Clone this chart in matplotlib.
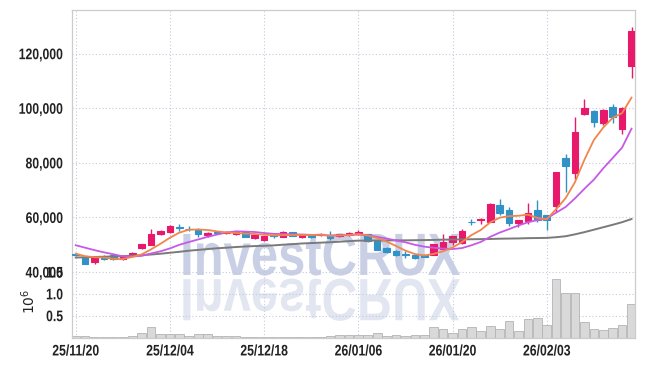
import matplotlib
matplotlib.use("Agg")
import matplotlib.pyplot as plt
from matplotlib.patheffects import AbstractPathEffect
from matplotlib.transforms import Affine2D
import numpy as np
import pandas as pd

# ---------------- data ----------------
dates = ["25/11/20", "25/11/21", "25/11/24", "25/11/25", "25/11/26", "25/11/27", "25/11/28",
         "25/12/01", "25/12/02", "25/12/03", "25/12/04", "25/12/05", "25/12/08", "25/12/09",
         "25/12/10", "25/12/11", "25/12/12", "25/12/15", "25/12/16", "25/12/17", "25/12/18",
         "25/12/19", "25/12/22", "25/12/23", "25/12/24", "25/12/26", "25/12/29", "25/12/30",
         "26/01/02", "26/01/05", "26/01/06", "26/01/07", "26/01/08", "26/01/09", "26/01/12",
         "26/01/13", "26/01/14", "26/01/15", "26/01/16", "26/01/19", "26/01/20", "26/01/21",
         "26/01/22", "26/01/23", "26/01/26", "26/01/27", "26/01/28", "26/01/29", "26/01/30",
         "26/02/02", "26/02/03", "26/02/04", "26/02/05", "26/02/06", "26/02/09", "26/02/10",
         "26/02/11", "26/02/12", "26/02/13", "26/02/19"]

opens = [46500, 45500, 43700, 45500, 46100, 44600, 46600, 48800, 50000, 53800,
         54700, 56500, 55900, 55400, 53600, 54600, 54200, 54000, 54500, 52300,
         51700, 53400, 53000, 54600, 52700, 53400, 53500, 53700, 53300, 53500,
         53900, 53800, 51200, 48800, 47600, 46600, 46400, 46400, 46400, 48600,
         51000, 50500, 58500, 59000, 58400, 64500, 62900, 58000, 58700, 62600,
         60800, 64300, 81900, 76400, 97800, 99000, 94500, 100400, 92300, 115300]
highs = [46800, 45700, 45700, 46400, 46300, 46000, 47400, 50400, 55700, 55300,
         57200, 57500, 56800, 56000, 54700, 55000, 54900, 54900, 54800, 53700,
         53300, 53700, 55100, 54800, 53600, 53700, 54300, 55100, 54100, 54500,
         55500, 54000, 51400, 49200, 47900, 47600, 46600, 46700, 50300, 54100,
         53300, 55600, 59400, 59800, 65100, 66600, 63900, 59200, 65100, 66300,
         61000, 76800, 83100, 96900, 103300, 99200, 99600, 101600, 100300, 129700]
lows = [46000, 42800, 43100, 44400, 44500, 44400, 46200, 48300, 49800, 53600,
        54400, 55000, 55000, 52900, 53000, 54000, 53800, 53700, 52900, 52000,
        51500, 52600, 52800, 53100, 52300, 52600, 53300, 51800, 53000, 53300,
        53700, 51100, 48000, 46900, 46000, 45300, 44800, 45400, 46100, 48400,
        50000, 50300, 57300, 57500, 58200, 60800, 56800, 56500, 57500, 58400,
        55500, 62000, 69200, 74000, 97500, 93200, 94000, 94500, 90500, 111000]
closes = [46300, 43000, 45500, 44600, 44700, 45900, 46900, 50200, 53800, 55000,
          56900, 56200, 55600, 54100, 54200, 54300, 54400, 54500, 52900, 53500,
          53100, 53200, 54700, 53300, 53500, 52900, 54100, 52500, 53900, 54300,
          54800, 51300, 48200, 47200, 46200, 46300, 45000, 45600, 50100, 51000,
          53100, 55000, 58300, 59600, 64900, 61700, 57800, 59000, 61700, 59000,
          59000, 76500, 79000, 91200, 100000, 95100, 99400, 96700, 100000, 128300]

# closes of the nine sessions before the first shown one (estimated from the MA curves)
prior_closes = [52000, 54500, 52600, 51700, 53700, 47500, 47500, 45100, 47100]

# 60-day moving average
ma60 = [45300, 45400, 45500, 45600, 45700, 45800, 45950, 46150, 46400, 46700,
        47050, 47400, 47800, 48100, 48400, 48700, 48900, 49150, 49350, 49500,
        49600, 49750, 50000, 50200, 50450, 50600, 50750, 50900, 51100, 51300,
        51500, 51500, 51550, 51550, 51600, 51600, 51650, 51700, 51750, 51850,
        51900, 51950, 52000, 52050, 52100, 52200, 52250, 52300, 52400, 52450,
        52500, 52750, 53100, 53800, 54600, 55500, 56400, 57300, 58250, 59400]

volumes = [0.03, 0.03, 0.02, 0.02, 0.012, 0.02, 0.04, 0.11, 0.25, 0.08,
           0.08, 0.08, 0.04, 0.08, 0.07, 0.04, 0.03, 0.03, 0.02, 0.02,
           0.02, 0.02, 0.015, 0.02, 0.02, 0.015, 0.02, 0.03, 0.05, 0.05,
           0.06, 0.05, 0.11, 0.04, 0.05, 0.04, 0.05, 0.068, 0.248, 0.187,
           0.11, 0.20, 0.248, 0.14, 0.27, 0.187, 0.367, 0.14, 0.435, 0.457,
           0.29, 1.35, 1.01, 1.01, 0.345, 0.20, 0.18, 0.225, 0.29, 0.77]  # millions

price_ticks = [40000, 60000, 80000, 100000, 120000]
vol_ticks = [0.5, 1.0, 1.5]
date_tick_idx = [0, 10, 20, 30, 40, 50]

# ---------------- style ----------------
PINK = "#e8196a"
BLUE = "#3192c8"
ORANGE = "#f0864c"
PURPLE = "#c65ae6"
GREY = "#7a7a7a"
GRID = "#c3c9de"
SPINE = "#cccccc"
TXT = "#222222"

tfont = dict(family="Liberation Sans", weight="bold", size=11)
SQ = 0.8


class Squeeze(AbstractPathEffect):
    """Scale a text path horizontally (and optionally mirror it below itself)."""

    def __init__(self, sx=1.0, anchor="center", mirror=False, gap=0.0):
        super().__init__()
        self.sx, self.anchor, self.mirror, self.gap = sx, anchor, mirror, gap

    def draw_path(self, renderer, gc, tpath, affine, rgbFace=None):
        ext = tpath.get_extents(affine)
        if self.anchor == "right":
            xa = ext.x1
        elif self.anchor == "left":
            xa = ext.x0
        else:
            xa = 0.5 * (ext.x0 + ext.x1)
        y0 = ext.y0
        sy = -1.0 if self.mirror else 1.0
        t = Affine2D().translate(-xa, -y0).scale(self.sx, sy).translate(xa, y0 - self.gap)
        renderer.draw_path(gc, tpath, affine + t, rgbFace)


# ---------------- figure ----------------
fig = plt.figure(figsize=(6.45, 3.66), dpi=100)
fig.patch.set_facecolor("white")
L, W = 71.5 / 645, (635 - 71.5) / 645
ax = fig.add_axes([L, 1 - 272 / 366, W, (272 - 10) / 366])
axv = fig.add_axes([L, 1 - 337.5 / 366, W, (337.5 - 272) / 366], sharex=ax)
for a in (ax, axv):
    a.set_facecolor("none")
    a.set_zorder(1)

# watermark (with its reflection)
wm_font = dict(family="Liberation Sans", weight="bold", size=43)
fig.text(320 / 645, 1 - 275 / 366, "InvestCRUX", ha="center", va="baseline",
         color="#c9d0e6", zorder=-2, path_effects=[Squeeze(0.82)], **wm_font)
fig.text(320 / 645, 1 - 275 / 366, "InvestCRUX", ha="center", va="baseline",
         color="#e2e6f1", zorder=-2, path_effects=[Squeeze(0.82, mirror=True, gap=3)],
         **wm_font)

n = len(closes)
x = np.arange(n)
o = np.array(opens, float)
c = np.array(closes, float)
h = np.array(highs, float)
lo = np.array(lows, float)
cols = np.where(c >= o, PINK, BLUE)

ax.vlines(x, lo, h, colors=cols, lw=1.0, zorder=3)
ax.bar(x, np.maximum(np.abs(c - o), 1), bottom=np.minimum(o, c), width=0.7,
       color=cols, edgecolor=cols, linewidth=0.8, zorder=3)

allc = pd.Series(prior_closes + closes, dtype=float)
ma5 = allc.rolling(5).mean().iloc[len(prior_closes):].to_numpy()
ma10 = allc.rolling(10).mean().iloc[len(prior_closes):].to_numpy()

ax.plot(x, ma60, color=GREY, lw=1.4, zorder=4)
ax.plot(x, ma10, color=PURPLE, lw=1.3, zorder=4)
ax.plot(x, ma5, color=ORANGE, lw=1.3, zorder=4)

ax.set_xlim(-0.45, 59.37)
ax.set_ylim(40000, 136000)
ax.set_yticks(price_ticks)
ax.set_yticklabels([f"{v:,}" for v in price_ticks], color=TXT, **tfont)
ax.tick_params(axis="both", length=0, pad=6)
ax.tick_params(axis="x", labelbottom=False)

axv.bar(x, np.array(volumes) * 1e6, width=0.92, color="#d9d9d9",
        edgecolor="#b3b3b3", linewidth=0.6, zorder=2)
axv.set_ylim(0, 1.5e6)
axv.set_yticks([v * 1e6 for v in vol_ticks])
axv.set_yticklabels([f"{v:.1f}" for v in vol_ticks], color=TXT, **tfont)
axv.set_xticks(date_tick_idx)
axv.set_xticklabels([dates[i] for i in date_tick_idx], color=TXT, **tfont)
axv.tick_params(axis="both", length=0, pad=6)
axv.tick_params(axis="x", pad=5)
axv.set_ylabel(r"$10^{6}$", fontsize=10, color=TXT)
axv.yaxis.set_label_coords(-0.06, 0.55)

for lbl in ax.get_yticklabels() + axv.get_yticklabels():
    lbl.set_path_effects([Squeeze(SQ, anchor="right")])
for lbl in axv.get_xticklabels():
    lbl.set_path_effects([Squeeze(SQ, anchor="center")])

for a in (ax, axv):
    a.grid(True, linestyle=(0, (1, 2)), color=GRID, lw=0.8, zorder=0)
    a.set_axisbelow(True)
    for s in a.spines.values():
        s.set_color(SPINE)
        s.set_linewidth(0.9)
ax.spines["bottom"].set_visible(False)
axv.spines["top"].set_visible(False)

fig.savefig("out.png", dpi=100, facecolor="white")
